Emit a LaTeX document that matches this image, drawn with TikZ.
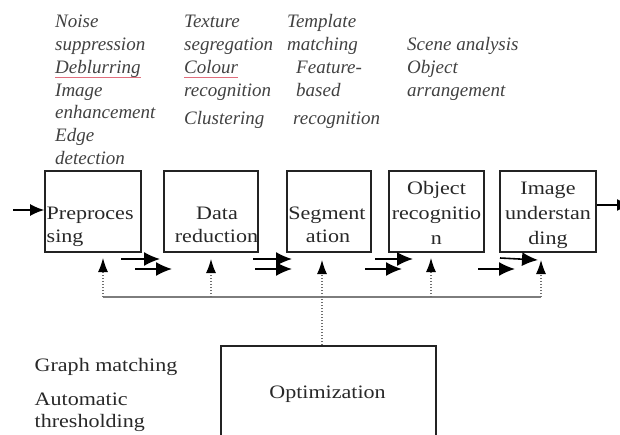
\documentclass[tikz,border=0pt]{standalone}
\usepackage{fontspec}
\setmainfont{Liberation Serif}
\newfontfamily\rmst{Liberation Serif}[FakeStretch=1.16]
\usetikzlibrary{arrows.meta}
\definecolor{txt}{RGB}{40,40,40}
\definecolor{itxt}{RGB}{65,65,65}
\definecolor{boxc}{RGB}{35,35,35}
\definecolor{busc}{RGB}{125,125,125}
\definecolor{dotc}{RGB}{110,110,110}
\definecolor{squig}{RGB}{225,110,125}
\tikzset{
  box/.style={draw=boxc, line width=1.8pt, minimum height=81pt, inner sep=0pt},
  lab/.style={font=\rmst\fontsize{19}{23}\selectfont, text=txt, inner sep=0pt},
  note/.style={font=\itshape\fontsize{19}{23}\selectfont, text=itxt, inner sep=0pt, anchor=base west},
  flow/.style={line width=1.6pt, black, -{Latex[length=16pt,width=14pt]}},
  inarrow/.style={line width=1.4pt, black, -{Latex[length=14pt,width=12pt]}},
  bus/.style={line width=1.3pt, busc},
  fb/.style={line width=1.1pt, dotc, dash pattern=on 1.5pt off 1.5pt},
  fbarrow/.style={fb, -{Latex[length=14pt,width=10pt,color=black,fill=black]}},
  squiggle/.style={line width=0.9pt, squig}
}
\begin{document}
\begin{tikzpicture}[x=1pt,y=-1pt]
\useasboundingbox (0,0) rectangle (620,435);

% ---------- process boxes ----------
\node[box, minimum width=96pt] (pre) at (93,211.5) {};
\node[box, minimum width=94pt] (dat) at (211,211.5) {};
\node[box, minimum width=84pt] (seg) at (329,211.5) {};
\node[box, minimum width=95pt] (obj) at (436.5,211.5) {};
\node[box, minimum width=96pt] (img) at (548,211.5) {};
\node[box, minimum width=215pt, minimum height=100pt] (opt) at (328.5,396) {};

% ---------- box labels ----------
\node[lab, anchor=base west] (pre1) at (46.5,220) {Preproces};
\node[lab, anchor=base west] (pre2) at (46.5,243) {sing};
\node[lab, anchor=base] (dat1) at (217,220) {Data};
\node[lab, anchor=base] (dat2) at (216.5,243) {reduction};
\node[lab, anchor=base] (seg1) at (327,220) {Segment};
\node[lab, anchor=base] (seg2) at (328,243) {ation};
\node[lab, anchor=base] (obj1) at (436.5,195) {Object};
\node[lab, anchor=base] (obj2) at (436.5,220) {recognitio};
\node[lab, anchor=base] (obj3) at (436.5,244) {n};
\node[lab, anchor=base] (img1) at (548,195) {Image};
\node[lab, anchor=base] (img2) at (548,220) {understan};
\node[lab, anchor=base] (img3) at (548,244) {ding};
\node[lab, anchor=base] (optl) at (327.5,398) {Optimization};

% ---------- notes above ----------
\node[note] (a1) at (55,28) {Noise};
\node[note] (a2) at (55,50.7) {suppression};
\node[note] (a3) at (55,73.4) {Deblurring};
\node[note] (a4) at (55,96.1) {Image};
\node[note] (a5) at (55,118.8) {enhancement};
\node[note] (a6) at (55,141.5) {Edge};
\node[note] (a7) at (55,164.2) {detection};

\node[note] (b1) at (184,28) {Texture};
\node[note] (b2) at (184,50.7) {segregation};
\node[note] (b3) at (184,73.4) {Colour};
\node[note] (b4) at (184,96.1) {recognition};
\node[note] (b5) at (184,125) {Clustering};

\node[note] (c1) at (287,28) {Template};
\node[note] (c2) at (287,50.7) {matching};
\node[note] (c3) at (296,73.4) {Feature-};
\node[note] (c4) at (296,96.1) {based};
\node[note] (c5) at (293,125) {recognition};

\node[note] (d1) at (407,50.7) {Scene analysis};
\node[note] (d2) at (407,73.4) {Object};
\node[note] (d3) at (407,96.1) {arrangement};

\draw[squiggle] ([yshift=-4pt]a3.base west) -- ([yshift=-4pt]a3.base east);
\draw[squiggle] ([yshift=-4pt]b3.base west) -- ([yshift=-4pt]b3.base east);

% ---------- notes below left ----------
\node[lab, anchor=base west] (g1) at (34.5,371) {Graph matching};
\node[lab, anchor=base west] (g2) at (34.5,405) {Automatic};
\node[lab, anchor=base west] (g3) at (34.5,427) {thresholding};

% ---------- input / output arrows ----------
\coordinate (in0) at (13,210);
\draw[inarrow] (in0) -- (pre.west |- in0);
\coordinate (out1) at (631,205);
\draw[inarrow] (img.east |- out1) -- (out1);

% ---------- small arrow pairs ----------
\coordinate (p1a) at (121,259); \coordinate (p1b) at (160,259);
\coordinate (p1c) at (135,269); \coordinate (p1d) at (172,269);
\coordinate (p2a) at (253,259); \coordinate (p2b) at (292,259);
\coordinate (p2c) at (255,269); \coordinate (p2d) at (292,269);
\coordinate (p3a) at (375,259); \coordinate (p3b) at (413,259);
\coordinate (p3c) at (365,269); \coordinate (p3d) at (402,269);
\coordinate (p4a) at (500,258); \coordinate (p4b) at (538,260);
\coordinate (p4c) at (478,269); \coordinate (p4d) at (515,269);
\foreach \i in {1,2,3,4}{
  \draw[flow] (p\i a) -- (p\i b);
  \draw[flow] (p\i c) -- (p\i d);
}

% ---------- feedback bus ----------
\coordinate (f1) at (103,297);
\coordinate (f2) at (211,297);
\coordinate (f3) at (322,297);
\coordinate (f4) at (431,297);
\coordinate (f5) at (541,297);
\draw[bus] (f1) -- (f5);
\coordinate (t1) at (103,258);
\coordinate (t2) at (211,259);
\coordinate (t3) at (322,260);
\coordinate (t4) at (431,258);
\coordinate (t5) at (541,260);
\draw[fbarrow] (f1) -- (t1);
\draw[fbarrow] (f2) -- (t2);
\draw[fbarrow] (opt.north -| f3) -- (t3);
\draw[fbarrow] (f4) -- (t4);
\draw[fbarrow] (f5) -- (t5);
\end{tikzpicture}
\end{document}
